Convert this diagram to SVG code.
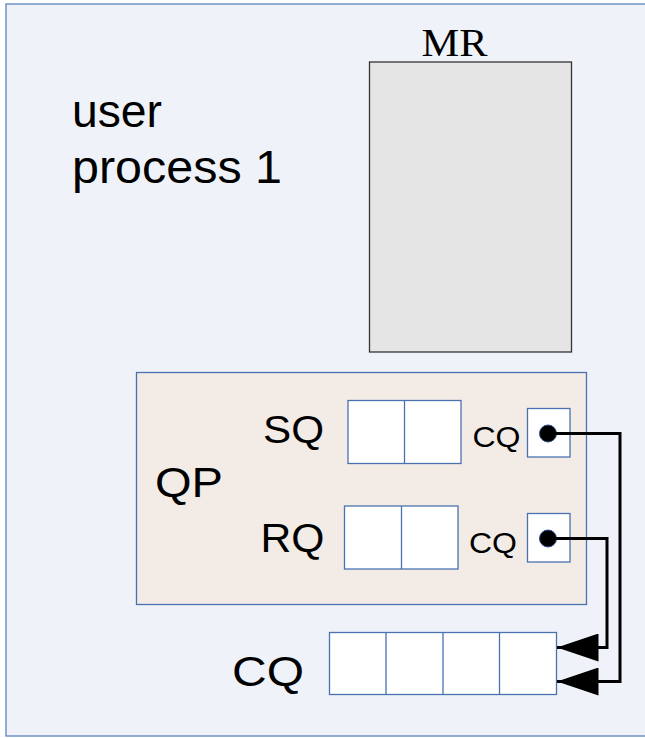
<svg xmlns="http://www.w3.org/2000/svg" width="645" height="738" viewBox="0 0 645 738">
  <style>
    .sans { font-family: "Liberation Sans", Arial, sans-serif; fill: #000; }
    .serif { font-family: "Liberation Serif", "Times New Roman", serif; fill: #000; }
    .cell { fill: #ffffff; stroke: #4a72b0; stroke-width: 1.3; }
    .wire { fill: none; stroke: #000; stroke-width: 3; stroke-linejoin: miter; }
  </style>
  <defs>
    <marker id="arrow" markerUnits="userSpaceOnUse" markerWidth="42" markerHeight="28" viewBox="0 0 40 27" refX="40" refY="13.5" orient="auto">
      <path d="M0,0 L40,13.5 L0,27 Z" fill="#000"/>
    </marker>
  </defs>

  <!-- user process container -->
  <g id="user-process">
    <rect x="6" y="4" width="660" height="732" fill="#eff3f9" stroke="#5b84bf" stroke-width="1.3"/>
    <text class="sans" x="72" y="127" font-size="46" textLength="90" lengthAdjust="spacingAndGlyphs">user</text>
    <text class="sans" x="72" y="183" font-size="46" textLength="210" lengthAdjust="spacingAndGlyphs">process 1</text>
  </g>

  <!-- memory region -->
  <g id="mr">
    <rect x="369.5" y="62" width="202" height="290" fill="#e5e5e5" stroke="#333" stroke-width="1.3"/>
    <text class="serif" x="421.5" y="56" font-size="39" textLength="66" lengthAdjust="spacingAndGlyphs">MR</text>
  </g>

  <!-- queue pair -->
  <g id="qp">
    <rect x="136.5" y="372.5" width="450" height="232" fill="#f2ebe6" stroke="#4a72b0" stroke-width="1.3"/>
    <text class="sans" x="155" y="497" font-size="43" textLength="68" lengthAdjust="spacingAndGlyphs">QP</text>
  </g>

  <!-- send queue -->
  <g id="sq">
    <text class="sans" x="263" y="443" font-size="38" textLength="61" lengthAdjust="spacingAndGlyphs">SQ</text>
    <rect class="cell" x="348" y="400.5" width="113" height="63"/>
    <line x1="404.5" y1="400.5" x2="404.5" y2="463.5" stroke="#4a72b0" stroke-width="1.3"/>
  </g>

  <!-- receive queue -->
  <g id="rq">
    <text class="sans" x="260.5" y="552" font-size="40" textLength="64" lengthAdjust="spacingAndGlyphs">RQ</text>
    <rect class="cell" x="344.5" y="506" width="113.5" height="63"/>
    <line x1="401.5" y1="506" x2="401.5" y2="569" stroke="#4a72b0" stroke-width="1.3"/>
  </g>

  <!-- CQ pointer of send queue -->
  <g id="sq-cq">
    <text class="sans" x="472.5" y="447" font-size="30" textLength="48" lengthAdjust="spacingAndGlyphs">CQ</text>
    <rect class="cell" x="527.5" y="408.5" width="42.5" height="48.5"/>
    <circle cx="548" cy="433.5" r="8.5" fill="#000" stroke="#2a4f8a" stroke-width="1"/>
  </g>

  <!-- CQ pointer of receive queue -->
  <g id="rq-cq">
    <text class="sans" x="469" y="553" font-size="30" textLength="48" lengthAdjust="spacingAndGlyphs">CQ</text>
    <rect class="cell" x="527.5" y="513.5" width="42.5" height="48.5"/>
    <circle cx="548" cy="538.5" r="8.5" fill="#000" stroke="#2a4f8a" stroke-width="1"/>
  </g>

  <!-- completion queue -->
  <g id="cq">
    <text class="sans" x="232" y="686" font-size="42" textLength="72" lengthAdjust="spacingAndGlyphs">CQ</text>
    <rect class="cell" x="329.5" y="632.5" width="227" height="62"/>
    <line x1="386" y1="632.5" x2="386" y2="694.5" stroke="#4a72b0" stroke-width="1.3"/>
    <line x1="443" y1="632.5" x2="443" y2="694.5" stroke="#4a72b0" stroke-width="1.3"/>
    <line x1="499.5" y1="632.5" x2="499.5" y2="694.5" stroke="#4a72b0" stroke-width="1.3"/>
  </g>

  <!-- connectors -->
  <g id="connectors">
    <polyline class="wire" points="548,433.5 620,433.5 620,681.5 557,681.5" marker-end="url(#arrow)"/>
    <polyline class="wire" points="548,538.5 607,538.5 607,647.5 557,647.5" marker-end="url(#arrow)"/>
  </g>
</svg>
